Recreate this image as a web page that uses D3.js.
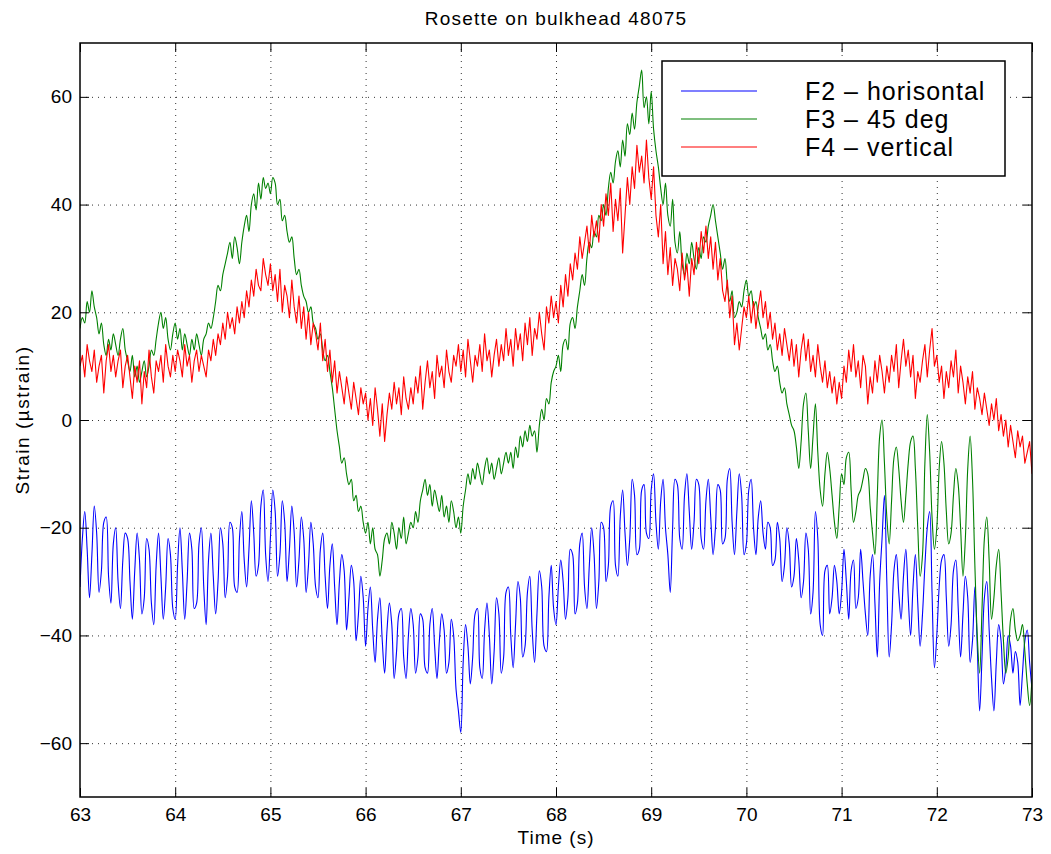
<!DOCTYPE html>
<html>
<head>
<meta charset="utf-8">
<script src="https://cdn.jsdelivr.net/npm/d3@7"></script>
<style>
    body { margin: 0; background: #fff; }
    text { font-family: "Liberation Sans", Arial, Helvetica, sans-serif; fill: #000; }
</style>
</head>
<body>
<svg id="chart" width="1051" height="854"></svg>
<script>
// samples, one every 0.025 s from 63 s to 73 s
const timeStart = 63;
const timeStep = 0.025;

const f2Horisontal = [
    -31, -22, -17, -24, -33, -25, -16, -21, -32, -28, -19, -18, -29, -34, -23, -20, -30, -35, -26, -21,
    -22, -30, -37, -28, -21, -26, -36, -33, -22, -24, -34, -38, -27, -21, -29, -37, -31, -22, -25, -35,
    -37, -27, -20, -28, -37, -30, -21, -24, -35, -34, -23, -20, -31, -38, -26, -21, -29, -36, -30, -20,
    -23, -33, -29, -19, -20, -31, -32, -22, -17, -26, -31, -24, -15, -21, -29, -27, -16, -13, -25, -30,
    -22, -13, -17, -29, -25, -15, -19, -30, -24, -16, -21, -31, -26, -18, -22, -32, -27, -19, -23, -31,
    -33, -24, -21, -29, -35, -27, -23, -31, -38, -30, -25, -28, -39, -33, -27, -30, -41, -36, -29, -33,
    -42, -35, -31, -39, -45, -37, -33, -41, -47, -39, -34, -38, -48, -43, -36, -35, -44, -48, -40, -35,
    -38, -47, -44, -36, -37, -46, -47, -38, -35, -42, -48, -41, -36, -39, -47, -45, -37, -40, -50, -54,
    -58, -45, -38, -42, -49, -44, -36, -35, -46, -48, -39, -34, -40, -49, -43, -33, -36, -47, -44, -32,
    -31, -40, -46, -38, -30, -33, -44, -42, -32, -29, -39, -45, -36, -28, -31, -42, -43, -33, -27, -35,
    -38, -31, -26, -30, -37, -33, -24, -25, -36, -34, -23, -21, -31, -35, -27, -20, -25, -35, -30, -19,
    -20, -30, -27, -16, -15, -27, -29, -18, -13, -21, -27, -22, -11, -14, -25, -24, -13, -12, -21, -22,
    -13, -10, -19, -24, -15, -11, -20, -25, -32, -20, -11, -12, -22, -24, -14, -10, -17, -24, -19, -11,
    -12, -22, -24, -15, -11, -18, -25, -20, -12, -13, -23, -22, -11, -9, -19, -25, -17, -10, -14, -25,
    -23, -13, -11, -20, -25, -18, -15, -21, -24, -19, -20, -27, -26, -19, -22, -30, -27, -20, -23, -31,
    -29, -22, -26, -33, -30, -21, -24, -36, -32, -17, -22, -38, -40, -28, -27, -36, -33, -27, -30, -36,
    -32, -24, -30, -37, -28, -26, -35, -33, -24, -30, -36, -40, -29, -25, -34, -44, -30, -22, -14, -30,
    -44, -38, -28, -25, -32, -37, -29, -24, -33, -40, -31, -25, -34, -42, -36, -27, -20, -17, -32, -46,
    -40, -31, -26, -25, -33, -42, -38, -28, -26, -35, -44, -36, -29, -33, -45, -41, -31, -42, -54, -44,
    -33, -30, -39, -48, -54, -45, -38, -41, -49, -46, -40, -42, -47, -43, -45, -53, -47, -41, -39, -45,
    -50
];

const f3Deg45 = [
    17, 19, 18, 22, 20, 24, 21, 19, 16, 18, 14, 12, 15, 13, 16, 14, 12, 15, 17, 13,
    11, 9, 12, 8, 10, 7, 9, 11, 8, 10, 13, 12, 15, 18, 20, 17, 19, 15, 13, 16,
    18, 15, 17, 13, 16, 14, 12, 15, 13, 16, 14, 12, 15, 16, 18, 17, 19, 22, 25, 24,
    27, 29, 31, 33, 30, 34, 32, 29, 33, 36, 38, 35, 40, 42, 39, 44, 41, 45, 43, 44,
    42, 45, 44, 40, 41, 37, 38, 35, 33, 34, 30, 27, 28, 25, 23, 22, 20, 21, 18, 17,
    15, 16, 13, 11, 12, 9, 6, 2, -2, -5, -8, -7, -10, -12, -11, -15, -14, -17, -16, -19,
    -21, -19, -23, -20, -24, -25, -29, -26, -22, -21, -23, -19, -21, -24, -20, -22, -18, -23, -21, -19,
    -20, -17, -19, -15, -13, -11, -14, -12, -16, -13, -15, -17, -14, -18, -16, -19, -15, -17, -20, -18,
    -21, -16, -13, -10, -12, -9, -11, -8, -10, -12, -9, -7, -10, -8, -11, -9, -7, -10, -8, -6,
    -8, -6, -9, -5, -7, -3, -5, -2, -4, -1, -3, -2, -6, -1, 2, 0, 4, 3, 7, 9,
    10, 12, 9, 14, 15, 13, 18, 19, 17, 21, 24, 27, 25, 30, 33, 32, 35, 34, 38, 37,
    40, 38, 43, 46, 44, 48, 50, 47, 52, 49, 55, 53, 57, 54, 59, 62, 65, 58, 60, 55,
    61, 54, 50, 47, 43, 40, 44, 38, 36, 41, 33, 31, 35, 29, 27, 31, 29, 33, 30, 28,
    32, 30, 34, 33, 36, 38, 40, 37, 34, 31, 28, 30, 25, 22, 24, 19, 20, 22, 21, 24,
    26, 23, 24, 21, 22, 19, 17, 15, 16, 13, 14, 11, 9, 10, 7, 5, 6, 3, 1, -1,
    -2, -5, -9, -4, 3, 5, -2, -9, -3, 3, -6, -13, -16, -10, -6, -9, -14, -19, -22, -16,
    -10, -12, -7, -6, -13, -19, -17, -14, -13, -11, -9, -10, -16, -21, -25, -14, -3, 0, -8, -18,
    -23, -15, -7, -5, -9, -15, -19, -14, -8, -4, -3, -9, -20, -29, -25, -8, 1, -6, -18, -24,
    -20, -9, -4, -8, -17, -23, -21, -14, -9, -12, -20, -29, -22, -9, -3, -11, -27, -40, -47, -35,
    -22, -18, -26, -37, -33, -27, -24, -32, -41, -47, -44, -37, -35, -39, -41, -40, -38, -43, -49, -53,
    -48
];

const f4Vertical = [
    10, 12, 8, 14, 11, 9, 13, 7, 10, 12, 5, 11, 14, 9, 12, 8, 11, 13, 6, 10,
    12, 8, 4, 10, 7, 11, 3, 9, 6, 13, 8, 5, 11, 9, 12, 7, 14, 10, 8, 12,
    9, 13, 11, 8, 14, 10, 12, 7, 11, 13, 9, 12, 10, 8, 13, 11, 15, 12, 16, 14,
    18, 15, 20, 17, 19, 16, 21, 18, 22, 19, 24, 21, 26, 23, 28, 25, 24, 30, 27, 25,
    29, 24, 27, 22, 28, 20, 25, 23, 19, 26, 21, 18, 23, 17, 21, 15, 20, 14, 18, 16,
    13, 18, 11, 15, 9, 13, 7, 11, 5, 9, 6, 3, 8, 5, 2, 7, 4, 1, 6, 3,
    5, 0, 4, -1, 6, 2, -3, 3, -4, 1, 5, 2, 7, 3, 6, 1, 8, 4, 2, 6,
    3, 8, 5, 10, 2, 7, 11, 6, 9, 4, 12, 8, 10, 6, 13, 9, 7, 12, 10, 14,
    9, 13, 8, 15, 11, 7, 12, 10, 14, 9, 16, 11, 13, 8, 12, 15, 10, 14, 11, 17,
    12, 15, 10, 17, 13, 16, 11, 18, 14, 19, 12, 17, 15, 20, 16, 13, 21, 18, 23, 19,
    22, 18, 25, 21, 27, 23, 29, 26, 31, 28, 34, 30, 33, 36, 31, 38, 34, 37, 33, 40,
    36, 42, 38, 44, 35, 41, 37, 43, 31, 38, 45, 40, 47, 43, 51, 46, 49, 44, 52, 45,
    41, 47, 38, 34, 40, 29, 35, 27, 32, 25, 30, 28, 24, 31, 26, 29, 23, 30, 27, 33,
    29, 35, 31, 36, 30, 34, 28, 33, 26, 30, 24, 22, 26, 19, 23, 14, 18, 13, 17, 21,
    19, 23, 18, 22, 17, 21, 24, 19, 22, 17, 20, 15, 18, 13, 16, 12, 17, 14, 11, 15,
    10, 14, 8, 13, 16, 11, 15, 9, 12, 8, 14, 10, 7, 11, 6, 9, 5, 8, 3, 7,
    4, 10, 7, 13, 9, 14, 8, 11, 6, 12, 10, 3, 8, 5, 11, 7, 12, 9, 5, 10,
    7, 12, 9, 14, 6, 11, 15, 10, 13, 8, 12, 4, 9, 7, 11, 14, 8, 13, 17, 10,
    12, 7, 10, 4, 9, 6, 11, 8, 13, 5, 10, 7, 3, 8, 5, 9, 2, 6, 4, 1,
    5, 2, -1, 3, 0, 4, -2, 1, -3, 0, -5, -1, -4, -7, -2, -5, -3, -8, -6, -4,
    -10
];

const seriesNames = ["F2 \u2013 horisontal", "F3 \u2013 45 deg", "F4 \u2013 vertical"];
const seriesColors = ["#0000ff", "#008000", "#ff0000"];
const xTicks = [63, 64, 65, 66, 67, 68, 69, 70, 71, 72, 73];
const yTicks = [-60, -40, -20, 0, 20, 40, 60];

const width = 1051;
const height = 854;
const margin = { top: 43, right: 19, bottom: 57, left: 80 };
const innerWidth = width - margin.left - margin.right;
const innerHeight = height - margin.top - margin.bottom;
const tickLen = 9;

const svg = d3.select("#chart");

const x = d3.scaleLinear().domain([63, 73]).range([margin.left, margin.left + innerWidth]);
const y = d3.scaleLinear().domain([-70, 70]).range([margin.top + innerHeight, margin.top]);

const minus = v => String(v).replace("-", "\u2212");

// dotted grid
const grid = svg.append("g").attr("stroke", "#333").attr("stroke-width", 1)
    .attr("stroke-dasharray", "1,5");
grid.selectAll(".gx").data(xTicks.slice(1, -1)).enter().append("line")
    .attr("x1", d => x(d) + 0.5).attr("x2", d => x(d) + 0.5)
    .attr("y1", y(70)).attr("y2", y(-70));
grid.selectAll(".gy").data(yTicks).enter().append("line")
    .attr("x1", x(63)).attr("x2", x(73))
    .attr("y1", d => y(d) + 0.5).attr("y2", d => y(d) + 0.5);

// data lines
svg.append("clipPath").attr("id", "plotClip").append("rect")
    .attr("x", x(63)).attr("y", y(70))
    .attr("width", innerWidth).attr("height", innerHeight);

const smoothLine = d3.line()
    .x((d, i) => x(timeStart + i * timeStep))
    .y(d => y(d))
    .curve(d3.curveCatmullRom.alpha(0.5));

const rawLine = d3.line()
    .x((d, i) => x(timeStart + i * timeStep))
    .y(d => y(d));

const plot = svg.append("g").attr("clip-path", "url(#plotClip)");
[f2Horisontal, f3Deg45, f4Vertical].forEach((values, k) => {
    plot.append("path")
        .datum(values)
        .attr("fill", "none")
        .attr("stroke", seriesColors[k])
        .attr("stroke-width", 1.1)
        .attr("stroke-linejoin", "round")
        .attr("d", k === 2 ? rawLine : smoothLine);
});

// axes, ticks pointing inward like matlab
const axisStyle = g => {
    g.select(".domain").remove();
    g.selectAll(".tick line").attr("stroke", "#000");
    g.selectAll(".tick text").attr("font-size", 19)
        .attr("font-family", "'Liberation Sans', Arial, sans-serif");
};
const noLabels = g => g.selectAll(".tick text").remove();

svg.append("g")
    .attr("transform", `translate(0, ${y(-70)})`)
    .call(d3.axisBottom(x).tickValues(xTicks).tickSizeInner(-tickLen).tickSizeOuter(0).tickPadding(11))
    .call(axisStyle);

svg.append("g")
    .attr("transform", `translate(0, ${y(70)})`)
    .call(d3.axisTop(x).tickValues(xTicks).tickSizeInner(-tickLen).tickSizeOuter(0))
    .call(axisStyle).call(noLabels);

svg.append("g")
    .attr("transform", `translate(${x(63)}, 0)`)
    .call(d3.axisLeft(y).tickValues(yTicks).tickSizeInner(-tickLen).tickSizeOuter(0).tickPadding(8).tickFormat(minus))
    .call(axisStyle);

svg.append("g")
    .attr("transform", `translate(${x(73)}, 0)`)
    .call(d3.axisRight(y).tickValues(yTicks).tickSizeInner(-tickLen).tickSizeOuter(0))
    .call(axisStyle).call(noLabels);

svg.append("rect")
    .attr("x", x(63)).attr("y", y(70))
    .attr("width", innerWidth).attr("height", innerHeight)
    .attr("fill", "none").attr("stroke", "#000").attr("stroke-width", 1.5);

// labels
svg.append("text")
    .text("Rosette on bulkhead 48075")
    .attr("x", (x(63) + x(73)) / 2).attr("y", 25)
    .attr("text-anchor", "middle").attr("font-size", 19).attr("letter-spacing", 1.2);

svg.append("text")
    .text("Time (s)")
    .attr("x", (x(63) + x(73)) / 2).attr("y", 844)
    .attr("text-anchor", "middle").attr("font-size", 19).attr("letter-spacing", 1);

svg.append("text")
    .text("Strain (\u00b5strain)")
    .attr("transform", `translate(29, ${y(0)}) rotate(-90)`)
    .attr("text-anchor", "middle").attr("font-size", 19).attr("letter-spacing", 1.5);

// legend box
const legend = svg.append("g").attr("transform", "translate(662, 61)");
legend.append("rect")
    .attr("width", 343).attr("height", 115)
    .attr("fill", "#fff").attr("stroke", "#000").attr("stroke-width", 1.5);

const items = legend.selectAll(".item").data(seriesNames).enter().append("g")
    .attr("transform", (d, i) => `translate(0, ${30 + i * 28})`);
items.append("line")
    .attr("x1", 19).attr("x2", 95)
    .attr("stroke", (d, i) => seriesColors[i]).attr("stroke-width", 1.1);
items.append("text")
    .text(d => d)
    .attr("x", 143).attr("y", 9)
    .attr("font-size", 25).attr("letter-spacing", 1);
</script>
</body>
</html>
